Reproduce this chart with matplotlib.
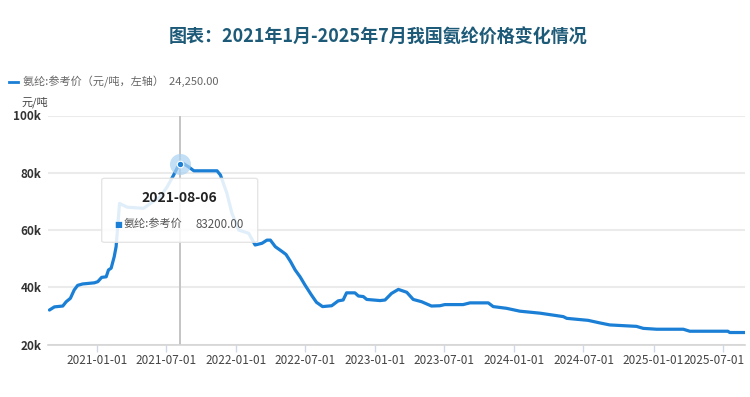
import matplotlib
matplotlib.use("Agg")
import matplotlib.pyplot as plt
import matplotlib.dates as mdates
from matplotlib.patches import FancyBboxPatch
from matplotlib.transforms import ScaledTranslation
import numpy as np
import pandas as pd

plt.rcParams['font.family'] = ['Noto Sans CJK SC', 'DejaVu Sans']

# ---- data ----
dates = [
    "2020-08-29", "2020-09-11", "2020-10-03", "2020-10-12", "2020-10-23", "2020-11-02",
    "2020-11-11", "2020-11-24", "2020-12-25", "2021-01-03", "2021-01-13", "2021-01-25",
    "2021-01-31", "2021-02-07", "2021-02-15", "2021-02-20", "2021-03-01", "2021-03-21",
    "2021-05-03", "2021-05-21", "2021-06-16", "2021-07-04", "2021-07-21", "2021-07-30",
    "2021-08-06", "2021-08-16", "2021-08-29", "2021-09-12", "2021-11-12", "2021-11-21",
    "2021-12-08", "2021-12-21", "2022-01-08", "2022-02-03", "2022-02-20", "2022-03-10",
    "2022-03-23", "2022-04-01", "2022-04-14", "2022-05-02", "2022-05-12", "2022-05-24",
    "2022-06-05", "2022-06-18", "2022-07-01", "2022-07-18", "2022-07-31", "2022-08-16",
    "2022-09-09", "2022-09-26", "2022-10-09", "2022-10-18", "2022-11-09", "2022-11-18",
    "2022-12-01", "2022-12-10", "2023-01-14", "2023-01-27", "2023-02-13", "2023-03-03",
    "2023-03-25", "2023-04-11", "2023-05-03", "2023-05-29", "2023-06-20", "2023-07-03",
    "2023-08-20", "2023-09-07", "2023-10-25", "2023-11-07", "2023-12-12", "2024-01-16",
    "2024-03-09", "2024-05-09", "2024-05-18", "2024-07-13", "2024-08-13", "2024-09-08",
    "2024-11-17", "2024-12-05", "2025-01-09", "2025-03-20", "2025-04-06", "2025-07-15",
    "2025-07-20", "2025-08-29",
]
prices = [
    32100, 33200, 33500, 35000, 36200, 39100,
    40700, 41200, 41600, 42000, 43500, 43700,
    46100, 46700, 50700, 54200, 69300, 68000,
    67600, 69300, 71600, 75100, 79200, 81600,
    83200, 83200, 82100, 80700, 80700, 79200,
    72800, 65900, 60000, 58900, 54800, 55400,
    56500, 56500, 54200, 52500, 51500, 49000,
    46100, 43700, 40800, 37300, 34800, 33300,
    33600, 35300, 35600, 38100, 38100, 37000,
    36800, 35800, 35400, 35600, 37900, 39300,
    38300, 35800, 35000, 33500, 33600, 34000,
    34000, 34600, 34600, 33300, 32700, 31700,
    31000, 29800, 29200, 28500, 27600, 26900,
    26400, 25700, 25400, 25400, 24700, 24700,
    24250, 24250,
]
tick_dates = ["2021-01-01", "2021-07-01", "2022-01-01", "2022-07-01", "2023-01-01",
              "2023-07-01", "2024-01-01", "2024-07-01", "2025-01-01", "2025-07-01"]
y_ticks = [20000, 40000, 60000, 80000, 100000]
y_labels = ["20k", "40k", "60k", "80k", "100k"]
highlight_date = "2021-08-06"

title = "图表：2021年1月-2025年7月我国氨纶价格变化情况"
legend_text = "氨纶:参考价（元/吨，左轴）  24,250.00"
unit_text = "元/吨"
series_name = "氨纶:参考价"

# ---- figure ----
W, H = 750, 397
fig = plt.figure(figsize=(W / 100, H / 100), dpi=100)
fig.patch.set_facecolor("white")

def fx(px):
    return px / W

def fy(py):
    return 1 - py / H

ax = fig.add_axes([fx(48.3), fy(344.7), fx(745 - 48.3), (344.7 - 115.5) / H])

d = pd.to_datetime(dates)
p = np.array(prices, dtype=float)
line_color = "#1a7fd5"

ax.plot(d, p, color=line_color, lw=2.3, solid_joinstyle="round", solid_capstyle="round", zorder=3)

ax.set_xlim(pd.Timestamp("2020-08-26"), d[-1])
ax.set_ylim(20000, 100000)
ax.set_yticks(y_ticks)
ax.set_yticklabels(y_labels)
ax.set_xticks(pd.to_datetime(tick_dates))
ax.set_xticklabels(tick_dates)

for s in ["top", "right", "left"]:
    ax.spines[s].set_visible(False)
ax.spines["bottom"].set_color("#d4d4d4")
ax.spines["bottom"].set_linewidth(1.2)

ax.grid(axis="y", color="#ebebeb", lw=1.5, zorder=0)
ax.tick_params(axis="y", length=0, pad=5, labelsize=8.5, labelcolor="#333333")
ax.tick_params(axis="x", length=5, width=1, color="#d0d8e8", pad=2, labelsize=8.5,
               labelcolor="#444444")
for lab in ax.get_yticklabels():
    lab.set_fontweight("bold")
# keep the last date label inside the figure (as the reference does)
last = ax.get_xticklabels()[-1]
last.set_transform(last.get_transform() + ScaledTranslation(-8 / 100, 0, fig.dpi_scale_trans))

# crosshair + highlighted point
hd = pd.Timestamp(highlight_date)
hv = p[list(d).index(hd)]
ax.axvline(hd, color="#c4c4c4", lw=1.4, zorder=2)
ax.scatter([hd], [hv], s=230, color="#a9d2f3", alpha=0.7, zorder=4, lw=0)
ax.scatter([hd], [hv], s=22, color=line_color, zorder=5, edgecolors="white", linewidths=0.8)

# tooltip
tip = FancyBboxPatch((fx(101.7), fy(242.3)), fx(257.7 - 101.7), (242.3 - 178.3) / H,
                     boxstyle="round,pad=0,rounding_size=0.004",
                     transform=fig.transFigure, facecolor="white", alpha=0.87,
                     edgecolor="#e2e2e2", lw=1.0, zorder=10)
fig.patches.append(tip)
fig.text(fx(179), fy(198), highlight_date, ha="center", va="center", fontsize=10,
         fontweight="bold", color="#222222", zorder=11)
fig.text(fx(118.5), fy(224.5), "■", ha="center", va="center", fontsize=6,
         color=line_color, zorder=11, family=["DejaVu Sans"])
fig.text(fx(124), fy(224), series_name, ha="left", va="center", fontsize=8,
         color="#555555", zorder=11)
fig.text(fx(196), fy(224), f"{hv:.2f}", ha="left", va="center", fontsize=8.3,
         color="#555555", zorder=11)

# title, legend, unit
fig.text(fx(378), fy(37), title, ha="center", va="center", fontsize=13,
         fontweight="bold", color="#1d5a78")
fig.lines.append(plt.Line2D([fx(9), fx(18)], [fy(82), fy(82)], transform=fig.transFigure,
                            color=line_color, lw=2))
fig.text(fx(23), fy(82), legend_text, ha="left", va="center", fontsize=8,
         color="#666666")
fig.text(fx(22), fy(102), unit_text, ha="left", va="center", fontsize=8,
         color="#444444")

fig.savefig("out.png", dpi=100, facecolor="white")
